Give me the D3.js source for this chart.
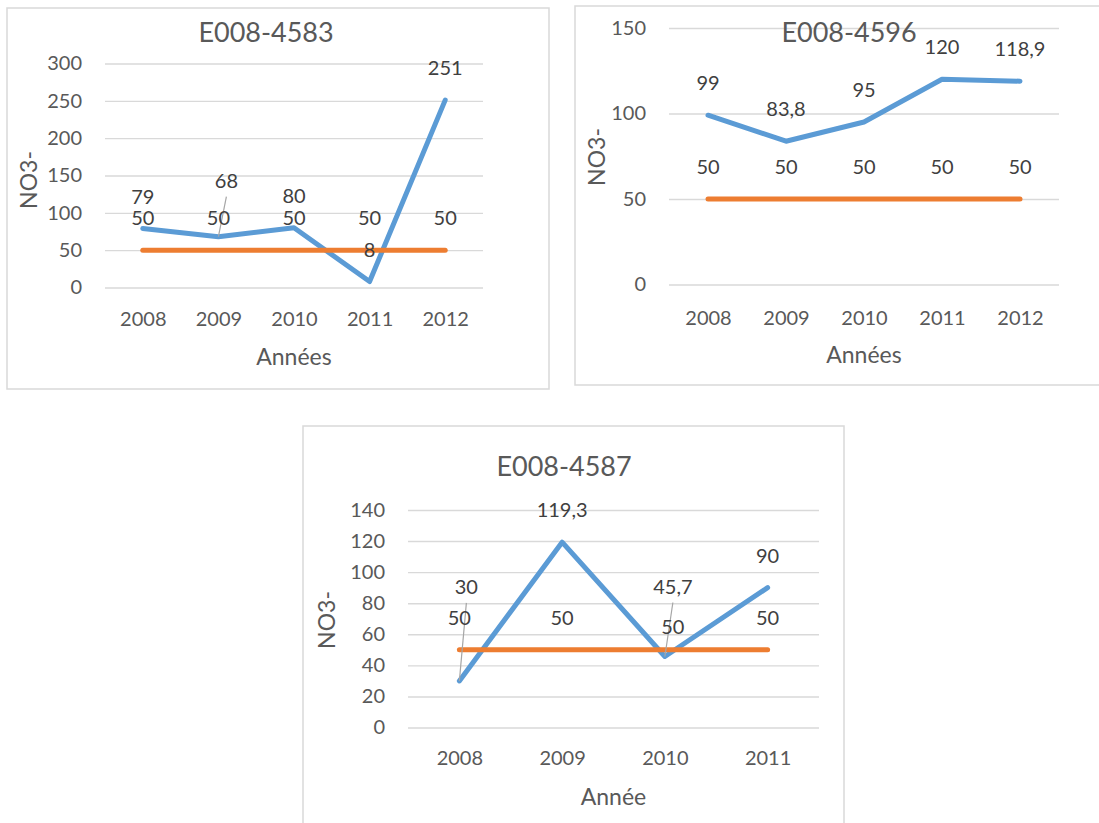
<!DOCTYPE html>
<html>
<head>
<meta charset="utf-8">
<script src="https://cdn.jsdelivr.net/npm/d3@7"></script>
<style>
  html, body { margin: 0; padding: 0; background: #ffffff; }
  svg { display: block; font-family: "Lato", "Open Sans", sans-serif; }
</style>
</head>
<body>
<svg id="fig" width="1099" height="823"></svg>
<script>
// ---- Data: nitrate (NO3-) measurements per station and the 50 mg/L limit ----
const years4583 = ["2008", "2009", "2010", "2011", "2012"];
const no3_4583 = [79, 68, 80, 8, 251];
const limit4583 = [50, 50, 50, 50, 50];
const ticks4583 = [0, 50, 100, 150, 200, 250, 300];

const years4596 = ["2008", "2009", "2010", "2011", "2012"];
const no3_4596 = [99, 83.8, 95, 120, 118.9];
const limit4596 = [50, 50, 50, 50, 50];
const ticks4596 = [0, 50, 100, 150];

const years4587 = ["2008", "2009", "2010", "2011"];
const no3_4587 = [30, 119.3, 45.7, 90];
const limit4587 = [50, 50, 50, 50];
const ticks4587 = [0, 20, 40, 60, 80, 100, 120, 140];

// Manual nudges of individual data labels (pixels, from the default "above" spot)
const nudgeNo3_4583 = [[0, 0], [8, -24], [0, 0], [0, 0], [0, 0]];
const nudgeLim_4583 = [[0, 0], [0, 0], [0, 0], [0, 0], [0, 0]];
const nudgeNo3_4596 = [[0, 0], [0, 0], [0, 0], [0, 0], [0, 0]];
const nudgeLim_4596 = [[0, 0], [0, 0], [0, 0], [0, 0], [0, 0]];
const nudgeNo3_4587 = [[7, -62], [0, 0], [8, -38], [0, 0]];
const nudgeLim_4587 = [[0, 0], [0, 0], [8, 9], [0, 0]];

const locale = d3.formatLocale({ decimal: ",", thousands: " ", grouping: [3], currency: ["", " €"] });
const fmt = v => Number.isInteger(v) ? String(v) : locale.format(".1f")(v);

const COLORS = { no3: "#5b9bd5", limit: "#ed7d31", grid: "#d9d9d9", border: "#d9d9d9",
                 axisText: "#595959", labelText: "#404040", leader: "#a6a6a6" };

const svg = d3.select("#fig");

function drawChart(cfg) {
  const g = svg.append("g");

  // chart frame
  g.append("rect")
    .attr("x", cfg.box.x).attr("y", cfg.box.y)
    .attr("width", cfg.box.w).attr("height", cfg.box.h)
    .attr("fill", "#ffffff").attr("stroke", COLORS.border).attr("stroke-width", 1.5);

  const x = d3.scalePoint().domain(cfg.years).range([cfg.plot.x0, cfg.plot.x1]).padding(0.5);
  const y = d3.scaleLinear().domain(cfg.yDomain).range([cfg.plot.y1, cfg.plot.y0]);

  // horizontal gridlines + value axis labels
  const yAxis = g.append("g")
    .attr("transform", `translate(${cfg.plot.x0},0)`)
    .call(d3.axisLeft(y).tickValues(cfg.ticks).tickFormat(d => String(d))
      .tickSize(-(cfg.plot.x1 - cfg.plot.x0)).tickPadding(23));
  yAxis.select(".domain").remove();
  yAxis.selectAll(".tick line").attr("stroke", COLORS.grid).attr("stroke-width", 1.4);
  yAxis.selectAll(".tick text")
    .attr("fill", COLORS.axisText).attr("font-size", 20).attr("font-family", "Lato");

  // category axis labels
  const xAxis = g.append("g")
    .attr("transform", `translate(0,${cfg.xLabelY})`)
    .call(d3.axisBottom(x).tickSize(0).tickPadding(0));
  xAxis.select(".domain").remove();
  xAxis.selectAll(".tick text")
    .attr("dy", "0.35em")
    .attr("fill", COLORS.axisText).attr("font-size", 20).attr("font-family", "Lato");

  // titles
  g.append("text").attr("x", cfg.title.x).attr("y", cfg.title.y).attr("dy", "0.35em")
    .attr("text-anchor", "middle").attr("font-size", 27).attr("fill", COLORS.axisText)
    .text(cfg.titleText);
  g.append("text").attr("x", (cfg.plot.x0 + cfg.plot.x1) / 2).attr("y", cfg.xTitleY).attr("dy", "0.35em")
    .attr("text-anchor", "middle").attr("font-size", 23).attr("fill", COLORS.axisText)
    .text(cfg.xTitleText);
  g.append("text")
    .attr("transform", `translate(${cfg.yTitle.x},${cfg.yTitle.y}) rotate(-90)`)
    .attr("dy", "0.35em").attr("text-anchor", "middle")
    .attr("font-size", 23).attr("fill", COLORS.axisText)
    .text("NO3-");

  const line = d3.line().x(d => x(d.year)).y(d => y(d.v));

  const series = [
    { values: cfg.no3, color: COLORS.no3, nudge: cfg.nudgeNo3 },
    { values: cfg.limit, color: COLORS.limit, nudge: cfg.nudgeLim }
  ];

  series.forEach(s => {
    const pts = cfg.years.map((yr, i) => ({ year: yr, v: s.values[i] }));
    g.append("path").datum(pts)
      .attr("fill", "none").attr("stroke", s.color).attr("stroke-width", 5)
      .attr("stroke-linecap", "round").attr("stroke-linejoin", "round")
      .attr("d", line);
  });

  // data labels (drawn after both lines so they sit on top)
  series.forEach(s => {
    cfg.years.forEach((yr, i) => {
      const px = x(yr), py = y(s.values[i]);
      const [ndx, ndy] = s.nudge[i];
      const lx = px + ndx, ly = py - 32 + ndy;
      if (Math.abs(ndy) > 15 && ndy < 0) {
        g.append("line")
          .attr("x1", lx).attr("y1", ly + 16).attr("x2", px).attr("y2", py)
          .attr("stroke", COLORS.leader).attr("stroke-width", 1.2);
      }
      g.append("text").attr("x", lx).attr("y", ly).attr("dy", "0.35em")
        .attr("text-anchor", "middle").attr("font-size", 20).attr("fill", COLORS.labelText)
        .text(fmt(s.values[i]));
    });
  });
}

drawChart({
  titleText: "E008-4583", xTitleText: "Années",
  years: years4583, no3: no3_4583, limit: limit4583, ticks: ticks4583, yDomain: [0, 300],
  nudgeNo3: nudgeNo3_4583, nudgeLim: nudgeLim_4583,
  box: { x: 7, y: 8, w: 542, h: 381 },
  plot: { x0: 105, x1: 483, y0: 63.5, y1: 287.5 },
  title: { x: 266, y: 33 }, xLabelY: 319, xTitleY: 357, yTitle: { x: 29, y: 180 }
});

drawChart({
  titleText: "E008-4596", xTitleText: "Années",
  years: years4596, no3: no3_4596, limit: limit4596, ticks: ticks4596, yDomain: [0, 150],
  nudgeNo3: nudgeNo3_4596, nudgeLim: nudgeLim_4596,
  box: { x: 575, y: 6, w: 530, h: 379 },
  plot: { x0: 669, x1: 1059, y0: 28, y1: 284.5 },
  title: { x: 849, y: 33 }, xLabelY: 318, xTitleY: 355, yTitle: { x: 597, y: 157 }
});

drawChart({
  titleText: "E008-4587", xTitleText: "Année",
  years: years4587, no3: no3_4587, limit: limit4587, ticks: ticks4587, yDomain: [0, 140],
  nudgeNo3: nudgeNo3_4587, nudgeLim: nudgeLim_4587,
  box: { x: 303, y: 426, w: 541, h: 410 },
  plot: { x0: 408, x1: 819, y0: 510, y1: 727.5 },
  title: { x: 564, y: 467 }, xLabelY: 758, xTitleY: 797, yTitle: { x: 327, y: 620 }
});
</script>
</body>
</html>
